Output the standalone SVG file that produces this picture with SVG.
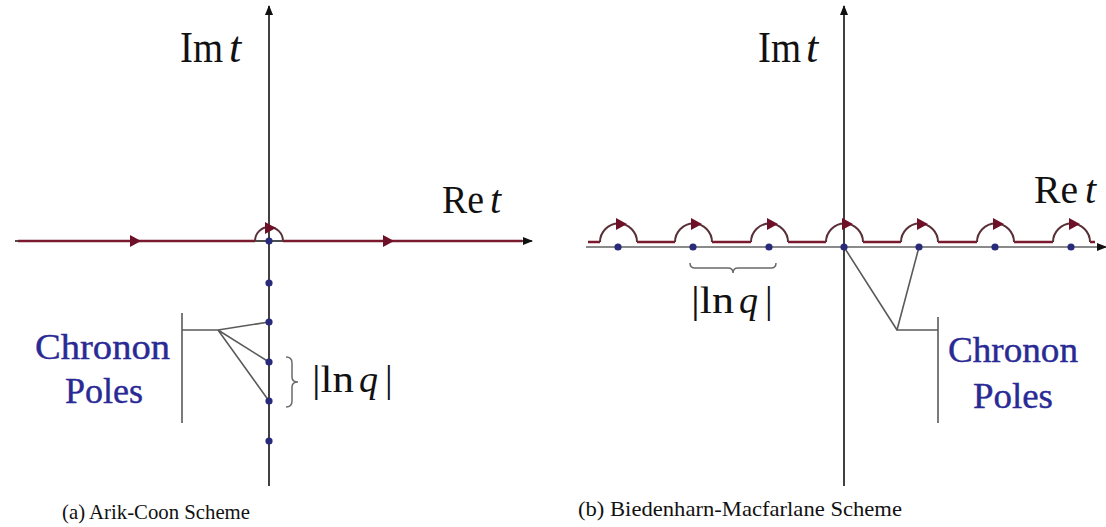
<svg xmlns="http://www.w3.org/2000/svg" width="1106" height="527" viewBox="0 0 1106 527">
<style>
.axis{stroke:#111;stroke-width:1.6;fill:none}
.gaxis{stroke:#8a8a8a;stroke-width:2;fill:none}
.contour{stroke:#7a1a2e;stroke-width:2.5;fill:none}
.bump{stroke:#5a3038;stroke-width:2;fill:none}
.lead{stroke:#5a5a5a;stroke-width:1.6;fill:none}
.brace{stroke:#6a6a6a;stroke-width:1.5;fill:none}
.pole{fill:#2a2a7a}
.lbl{font-family:"Liberation Serif","DejaVu Serif",serif;fill:#111}
.it{font-style:italic}
.blue{font-family:"Liberation Serif","DejaVu Serif",serif;fill:#2a2a95;font-size:35px;stroke:#2a2a95;stroke-width:0.4}
.cap{font-family:"Liberation Serif","DejaVu Serif",serif;fill:#111;font-size:21px}
</style>
<defs>
<marker id="ah" viewBox="0 0 10 10" refX="9" refY="5" markerWidth="10" markerHeight="10" markerUnits="userSpaceOnUse" orient="auto">
<path d="M0,1 L10,5 L0,9 Z" fill="#111"/>
</marker>
<path id="tri" d="M-5,-6 L6,0 L-5,6 Z" fill="#6e1028"/>
<circle id="dot" r="3.6" class="pole"/>
</defs>

<g id="connectors">
<line class="axis" x1="269" y1="486" x2="269" y2="6" marker-end="url(#ah)"/>
<line class="axis" x1="15" y1="241" x2="532" y2="241" marker-end="url(#ah)"/>
<path class="contour" d="M18,241 H255 M283,241 H522"/>
<path class="bump" d="M255,241 A14,14 0 0 1 283,241"/>
<use href="#tri" x="135" y="241"/>
<use href="#tri" x="388" y="241"/>
<use href="#tri" x="270" y="228"/>
<path class="lead" d="M182,313 V423 M182,330 H218 L269,322 M218,330 L269,362 M218,330 L269,401"/>
<path class="brace" d="M286,357 q6,0 6,6 v14 q0,5 6,5 q-6,0 -6,5 v14 q0,6 -6,6"/>

<line class="axis" x1="844" y1="486" x2="844" y2="6" marker-end="url(#ah)"/>
<line class="gaxis" x1="586" y1="247" x2="1106" y2="247" marker-end="url(#ah)"/>
<path class="contour" d="M588,242 H600 M637,242 H675 M712,242 H751 M788,242 H826 M863,242 H901 M938,242 H977 M1014,242 H1053 M1090,242 H1095"/>
<path class="bump" d="M600,242 A18.5,18.5 0 0 1 637,242 M675,242 A18.5,18.5 0 0 1 712,242 M751,242 A18.5,18.5 0 0 1 788,242 M826,242 A18.5,18.5 0 0 1 863,242 M901,242 A18.5,18.5 0 0 1 938,242 M977,242 A18.5,18.5 0 0 1 1014,242 M1053,242 A18.5,18.5 0 0 1 1090,242"/>
<use href="#tri" x="621" y="224"/>
<use href="#tri" x="696" y="224"/>
<use href="#tri" x="772" y="224"/>
<use href="#tri" x="847" y="224"/>
<use href="#tri" x="922" y="224"/>
<use href="#tri" x="998" y="224"/>
<use href="#tri" x="1074" y="224"/>
<path class="lead" d="M844,247 L897,330 M919,247 L897,330 H938 M938,317 V423"/>
<path class="brace" d="M690,263 q0,5 5,5 h33 q5,0 5,5 q0,-5 5,-5 h33 q5,0 5,-5"/>
</g>

<g id="poles-a">
<use href="#dot" x="269" y="241"/>
<use href="#dot" x="269" y="283"/>
<use href="#dot" x="269" y="322"/>
<use href="#dot" x="269" y="362"/>
<use href="#dot" x="269" y="401"/>
<use href="#dot" x="269" y="441"/>
</g>
<g id="poles-b">
<use href="#dot" x="618" y="247"/>
<use href="#dot" x="693" y="247"/>
<use href="#dot" x="769" y="247"/>
<use href="#dot" x="844" y="247"/>
<use href="#dot" x="919" y="247"/>
<use href="#dot" x="995" y="247"/>
<use href="#dot" x="1071" y="247"/>
</g>

<g id="labels-a">
<text class="lbl" x="180" y="62" font-size="44" textLength="43" lengthAdjust="spacingAndGlyphs">Im</text>
<text class="lbl it" x="229" y="62" font-size="44">t</text>
<text class="lbl" x="442" y="213" font-size="40" textLength="42" lengthAdjust="spacingAndGlyphs">Re</text>
<text class="lbl it" x="490" y="213" font-size="40">t</text>
<text class="lbl" x="312" y="392" font-size="38" textLength="42" lengthAdjust="spacingAndGlyphs">|ln</text>
<text class="lbl it" x="359" y="392" font-size="38">q</text>
<text class="lbl" x="385" y="392" font-size="38">|</text>
<text class="blue" x="35" y="359" textLength="135" lengthAdjust="spacingAndGlyphs">Chronon</text>
<text class="blue" x="65" y="403" textLength="78" lengthAdjust="spacingAndGlyphs">Poles</text>
<text class="cap" x="62" y="519" textLength="188" lengthAdjust="spacingAndGlyphs">(a) Arik-Coon Scheme</text>
</g>

<g id="labels-b">
<text class="lbl" x="758" y="62" font-size="44" textLength="43" lengthAdjust="spacingAndGlyphs">Im</text>
<text class="lbl it" x="806" y="62" font-size="44">t</text>
<text class="lbl" x="1034" y="203" font-size="40" textLength="44" lengthAdjust="spacingAndGlyphs">Re</text>
<text class="lbl it" x="1085" y="203" font-size="40">t</text>
<text class="lbl" x="691" y="313" font-size="38" textLength="43" lengthAdjust="spacingAndGlyphs">|ln</text>
<text class="lbl it" x="739" y="313" font-size="38">q</text>
<text class="lbl" x="765" y="313" font-size="38">|</text>
<text class="blue" x="948" y="362" textLength="130" lengthAdjust="spacingAndGlyphs">Chronon</text>
<text class="blue" x="973" y="408" textLength="80" lengthAdjust="spacingAndGlyphs">Poles</text>
<text class="cap" x="578" y="516" textLength="324" lengthAdjust="spacingAndGlyphs">(b) Biedenharn-Macfarlane Scheme</text>
</g>
</svg>
